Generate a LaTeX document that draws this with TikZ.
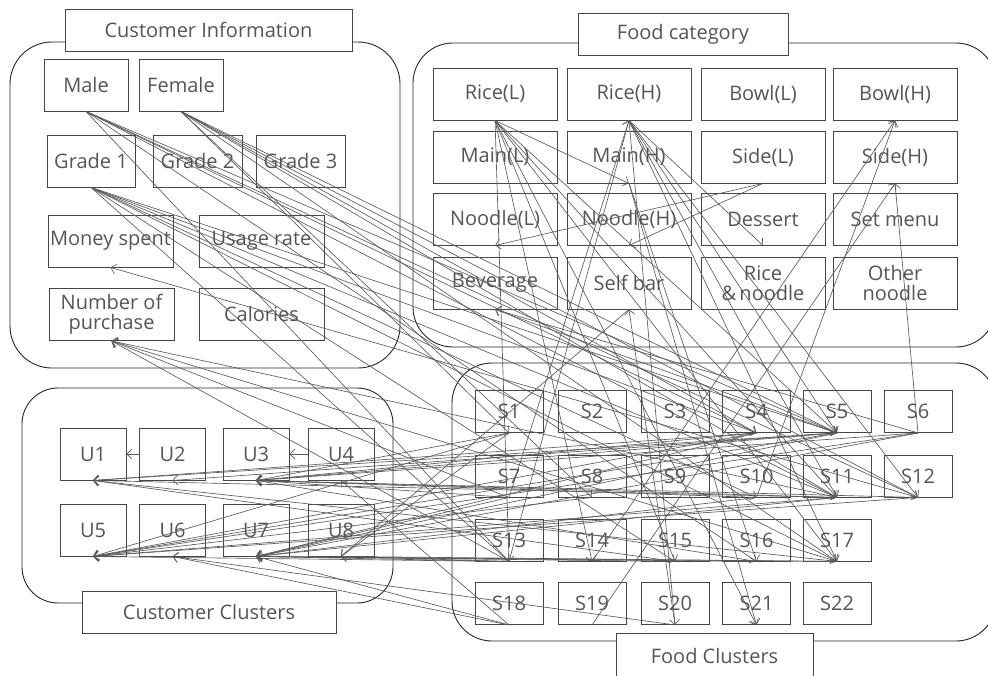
\documentclass[tikz,border=0pt]{standalone}
\usepackage{fontspec}
\setmainfont{Open Sans}
\usetikzlibrary{arrows.meta, positioning}
\definecolor{frame}{RGB}{70,70,70}
\definecolor{wire}{RGB}{90,90,90}
\definecolor{ink}{RGB}{85,85,85}

\begin{document}
\begin{tikzpicture}[x=1pt, y=-1pt,
          item/.style={rectangle, draw=frame, line width=0.9pt, text=ink,
                       font=\fontsize{20}{20}\selectfont, align=center,
                       inner sep=0pt, minimum height=52pt},
          cat/.style={item, minimum width=124pt},
          clus/.style={item, minimum width=68pt, minimum height=42pt},
          ucl/.style={item, minimum width=66pt},
          title/.style={item, fill=white, minimum height=42pt},
          group/.style={draw=black!85, line width=0.9pt},
          arr/.style={-{Straight Barb[length=5pt, width=10pt]}, draw=wire, line width=0.65pt}
        ]
        \useasboundingbox (0,0) rectangle (988,675);
        % group frames
        \draw[group, rounded corners=42pt] (10,42) rectangle (400,368);
        \draw[group, rounded corners=40pt] (413,43) rectangle (996,347);
        \draw[group, rounded corners=36pt] (22,388) rectangle (393,603);
        \draw[group, rounded corners=40pt] (452,363) rectangle (996,641);
        \node[title, minimum width=287pt] (tInfo) at (208.5,30) {Customer Information};
        \node[title, minimum width=210pt] (tCat) at (683,34) {Food category};
        \node[title, minimum width=254pt] (tUcl) at (209,612) {Customer Clusters};
        \node[title, minimum width=197pt, minimum height=46pt] (tScl) at (714.5,656) {Food Clusters};
        % customer information
        \node[item, minimum width=84pt] (male) at (86,85) {Male};
        \node[item, minimum width=84pt] (female) at (181,85) {Female};
        \node[item, minimum width=88pt] (grA) at (91,161) {Grade 1};
        \node[item, minimum width=89pt] (grB) at (197.5,161) {Grade 2};
        \node[item, minimum width=89pt] (grC) at (300.5,161) {Grade 3};
        \node[item, minimum width=125pt] (money) at (110.5,241) {Money spent};
        \node[item, minimum width=125pt] (usage) at (261.5,241) {Usage rate};
        \node[item, minimum width=125pt] (purch) at (111.5,314.5) {Number of\\purchase};
        \node[item, minimum width=125pt] (calor) at (261.5,314) {Calories};
        % food category
        \node[cat] (riceL) at (495,94) {Rice(L)};
        \node[cat] (riceH) at (629,94) {Rice(H)};
        \node[cat] (bowlL) at (763,94) {Bowl(L)};
        \node[cat] (bowlH) at (895,94) {Bowl(H)};
        \node[cat] (mainL) at (495,157) {Main(L)};
        \node[cat] (mainH) at (629,157) {Main(H)};
        \node[cat] (sideL) at (763,157) {Side(L)};
        \node[cat] (sideH) at (895,157) {Side(H)};
        \node[cat] (noodL) at (495,219) {Noodle(L)};
        \node[cat] (noodH) at (629,219) {Noodle(H)};
        \node[cat] (dessert) at (763,219) {Dessert};
        \node[cat] (setm) at (895,219) {Set menu};
        \node[cat] (bev) at (495,283) {Beverage};
        \node[cat] (selfb) at (629,283) {Self bar};
        \node[cat] (ricen) at (763,283) {Rice\\\&\,noodle};
        \node[cat] (othern) at (895,283) {Other\\noodle};
        % food clusters
        \foreach \n/\x/\y in {1/509/411.5, 2/592/411.5, 3/675/411.5, 4/756.5/411.5, 5/837/411.5, 6/918/411.5,
                              7/509/476, 8/592/476, 9/675/476, 10/756.5/476, 11/837/476, 12/918/476,
                              13/509/540, 14/592/540, 15/675/540, 16/756.5/540, 17/837/540,
                              18/509/603.5, 19/592/603.5, 20/675/603.5, 21/756.5/603.5, 22/837/603.5}
          \node[clus] (s\n) at (\x,\y) {S\n};
        % customer clusters
        \foreach \n/\x/\y in {1/93/454, 2/172.5/454, 3/256/454, 4/341/454,
                              5/93/530, 6/172.5/530, 7/256/530, 8/341/530}
          \node[ucl] (u\n) at (\x,\y) {U\n};
        % customer information -> food clusters
        \foreach \t in {s4,s5,s11,s12,s13,s16} \draw[arr] (male.south) -- (\t.south);
        \foreach \t in {s1,s4,s5,s8,s11,s12,s17} \draw[arr] (female.south) -- (\t.south);
        \foreach \t in {s4,s5,s10,s11,s13,s15,s17} \draw[arr] (grA.south) -- (\t.south);
        % food category <-> food clusters
        \foreach \t in {mainH,s5,s11,s13,s14,s15,s17,s21} \draw[arr] (riceL.south) -- (\t.south);
        \foreach \t in {dessert,s5,s11,s12,s17,s20} \draw[arr] (riceH.south) -- (\t.south);
        \foreach \t in {s16,s21} \draw[arr] (mainH.south) -- (\t.south);
        \draw[arr] (sideL.south) -- (noodL.south);
        \draw[arr] (sideL.south) -- (noodH.south);
        \draw[arr] (s7.south) -- (riceH.south);
        \draw[arr] (s13.south) -- (riceH.south);
        \draw[arr] (s14.south) -- (bowlH.south);
        \draw[arr] (s10.south) -- (bowlH.south);
        \draw[arr] (s19.south) -- (sideH.south);
        \draw[arr] (s6.south) -- (sideH.south);
        \draw[arr] (s6.south) -- (bev.south);
        \draw[arr] (s5.south) -- (bev.south);
        \draw[arr] (s20.south) -- (selfb.south);
        \draw[arr] (s12.south) -- (money.south);
        \foreach \f in {s7,s11,s13,s17} \draw[arr] (\f.south) -- (purch.south);
        % food clusters -> customer clusters
        \foreach \t in {u3,u5,u8} \draw[arr] (s1.south) -- (\t.south);
        \foreach \t in {u1,u3,u5,u7} \draw[arr] (s4.south) -- (\t.south);
        \foreach \t in {u1,u2,u3,u5,u7} \draw[arr] (s5.south) -- (\t.south);
        \foreach \t in {u3,u5,u7} \draw[arr] (s6.south) -- (\t.south);
        \foreach \t in {u3,u7} \draw[arr] (s7.south) -- (\t.south);
        \draw[arr] (s8.south) -- (u5.south);
        \foreach \t in {u3,u7} \draw[arr] (s10.south) -- (\t.south);
        \foreach \t in {u1,u3,u5,u7} \draw[arr] (s11.south) -- (\t.south);
        \foreach \t in {u3,u5} \draw[arr] (s12.south) -- (\t.south);
        \foreach \t in {u5,u7,u8} \draw[arr] (s13.south) -- (\t.south);
        \foreach \t in {u1,u7} \draw[arr] (s15.south) -- (\t.south);
        \foreach \t in {u3,u7} \draw[arr] (s16.south) -- (\t.south);
        \foreach \t in {u1,u7,u8} \draw[arr] (s17.south) -- (\t.south);
        \foreach \t in {u4,u6,u7} \draw[arr] (s18.south) -- (\t.south);
        \draw[arr] (s20.south) -- (u6.south);
        \draw[arr] (selfb.south) -- (u8.south);
        \draw[arr] (u2) -- (u1);
        \draw[arr] (u4) -- (u3);
      \end{tikzpicture}
\end{document}
